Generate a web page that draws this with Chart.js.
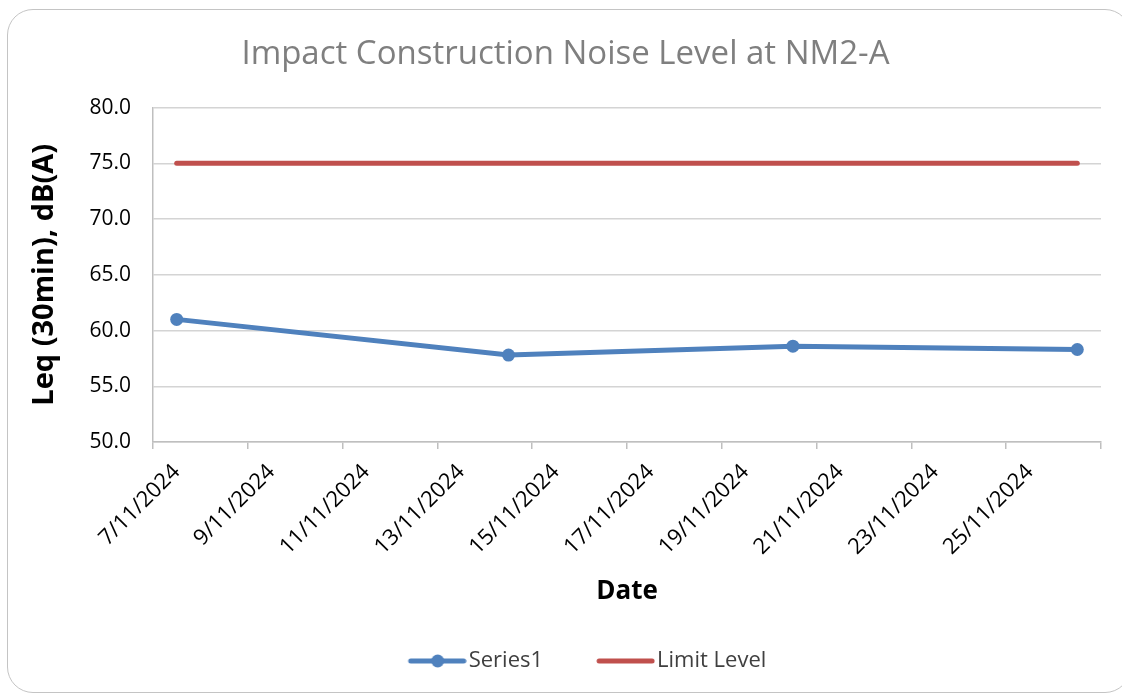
<!DOCTYPE html>
<html>
<head>
<meta charset="utf-8">
<title>Impact Construction Noise Level at NM2-A</title>
<script src="https://cdn.jsdelivr.net/npm/chart.js@4.4.1/dist/chart.umd.min.js"></script>
<style>
  html, body { margin: 0; padding: 0; background: #fff; overflow: hidden; }
  #wrap { position: relative; width: 1122px; height: 694px; overflow: hidden; }
  #frame {
    position: absolute; left: 7px; top: 9px; width: 1124px; height: 684px;
    border: 1px solid #c4c4c4; border-radius: 26px; box-sizing: border-box;
    pointer-events: none;
  }
  canvas { position: absolute; left: 0; top: 0; }
</style>
</head>
<body>
<div id="wrap">
  <canvas id="chartNoise" width="1122" height="694"></canvas>
  <div id="frame"></div>
</div>
<script>
// data
const startDate = '7/11/2024';
const endDate = '26/11/2024';
const tickLabels = ['7/11/2024', '9/11/2024', '11/11/2024', '13/11/2024', '15/11/2024',
  '17/11/2024', '19/11/2024', '21/11/2024', '23/11/2024', '25/11/2024'];
const series1Dates = ['7/11/2024', '14/11/2024', '20/11/2024', '26/11/2024'];
const series1Values = [61.0, 57.8, 58.6, 58.3];
const limitDates = ['7/11/2024', '26/11/2024'];
const limitValues = [75.0, 75.0];

// day number from the first date (dd/mm/yyyy)
function dayIndex(s) {
  const [d, m, y] = s.split('/').map(Number);
  const [d0, m0, y0] = startDate.split('/').map(Number);
  return Math.round((Date.UTC(y, m - 1, d) - Date.UTC(y0, m0 - 1, d0)) / 86400000);
}

const labelPos = tickLabels.map(dayIndex);
const xMin = dayIndex(startDate) - 0.5;
const xMax = dayIndex(endDate) + 0.5;

const FONT = '"Open Sans", "Noto Sans", sans-serif';
Chart.defaults.font.family = FONT;

// legend swatches: line with marker / plain line
function legendSwatch(color, withDot) {
  const c = document.createElement('canvas');
  c.width = 111; c.height = 16;
  const g = c.getContext('2d');
  g.strokeStyle = color;
  g.lineWidth = 5;
  g.lineCap = 'round';
  g.beginPath(); g.moveTo(55, 8); g.lineTo(108, 8); g.stroke();
  if (withDot) {
    g.fillStyle = color;
    g.beginPath(); g.arc(82, 8, 6.5, 0, Math.PI * 2); g.fill();
  }
  return c;
}

const BLUE = '#4f81bd';
const RED = '#c0504d';
const swatches = [legendSwatch(BLUE, true), legendSwatch(RED, false)];

const data = {
  datasets: [
    {
      label: 'Series1',
      data: series1Dates.map((d, i) => ({ x: dayIndex(d), y: series1Values[i] })),
      borderColor: BLUE,
      backgroundColor: BLUE,
      borderWidth: 5,
      pointRadius: 6.5,
      pointBorderWidth: 0,
      pointBackgroundColor: BLUE,
      tension: 0
    },
    {
      label: 'Limit Level',
      data: limitDates.map((d, i) => ({ x: dayIndex(d), y: limitValues[i] })),
      borderColor: RED,
      backgroundColor: RED,
      borderWidth: 5,
      borderCapStyle: 'round',
      pointRadius: 0,
      tension: 0
    }
  ]
};

const config = {
  type: 'line',
  data: data,
  options: {
    responsive: false,
    animation: false,
    layout: { padding: { left: 30, right: 21, top: 0, bottom: 12 } },
    plugins: {
      tooltip: { enabled: false },
      title: {
        display: true,
        text: 'Impact Construction Noise Level at NM2-A',
        color: '#7f7f7f',
        font: { family: FONT, size: 33, weight: 'normal' },
        padding: { top: 35, bottom: 33 }
      },
      legend: {
        position: 'bottom',
        labels: {
          usePointStyle: true,
          pointStyleWidth: 93,
          padding: 10,
          color: '#404040',
          font: { family: FONT, size: 22 },
          generateLabels: (chart) => chart.data.datasets.map((ds, i) => ({
            text: ds.label,
            pointStyle: swatches[i],
            fillStyle: ds.borderColor,
            strokeStyle: ds.borderColor,
            lineWidth: 0,
            hidden: false,
            datasetIndex: i,
            fontColor: '#404040'
          }))
        }
      }
    },
    scales: {
      x: {
        type: 'linear',
        min: xMin,
        max: xMax,
        afterBuildTicks: (scale) => {
          const vals = labelPos.slice();
          for (let v = xMin; v <= xMax + 0.001; v += 2) vals.push(v);
          vals.sort((a, b) => a - b);
          scale.ticks = vals.map(v => ({ value: v }));
        },
        afterFit: (scale) => {
          scale.height = 198;
          scale.paddingLeft = 0;
          scale.paddingRight = 0;
        },
        ticks: {
          autoSkip: false,
          maxRotation: 45,
          minRotation: 45,
          padding: 10,
          color: '#000',
          font: { family: FONT, size: 22 },
          callback: (value) => {
            const i = labelPos.indexOf(value);
            return i >= 0 ? tickLabels[i] : '';
          }
        },
        grid: {
          drawOnChartArea: false,
          drawTicks: true,
          tickLength: 7,
          lineWidth: 1.5,
          color: (ctx) => (ctx.tick && labelPos.includes(ctx.tick.value)) ? 'rgba(0,0,0,0)' : '#bfbfbf'
        },
        border: { color: '#bfbfbf', width: 1.5 },
        title: {
          display: true,
          text: 'Date',
          color: '#000',
          font: { family: FONT, size: 26, weight: 'bold' },
          padding: { top: 0, bottom: 33 }
        }
      },
      y: {
        min: 50,
        max: 80,
        afterFit: (scale) => { scale.width = 123; },
        ticks: {
          stepSize: 5,
          padding: 22,
          color: '#000',
          font: { family: FONT, size: 21 },
          callback: (v) => v.toFixed(1)
        },
        grid: { color: '#d4d4d4', lineWidth: 1.5, drawTicks: false },
        border: { color: '#bfbfbf', width: 1.5 },
        title: {
          display: true,
          text: 'Leq (30min), dB(A)',
          color: '#000',
          font: { family: FONT, size: 29, weight: 'bold', lineHeight: 1 },
          padding: { top: 0, bottom: 0 }
        }
      }
    }
  }
};

const ctx = document.getElementById('chartNoise');
new Chart(ctx, config);
</script>
</body>
</html>
